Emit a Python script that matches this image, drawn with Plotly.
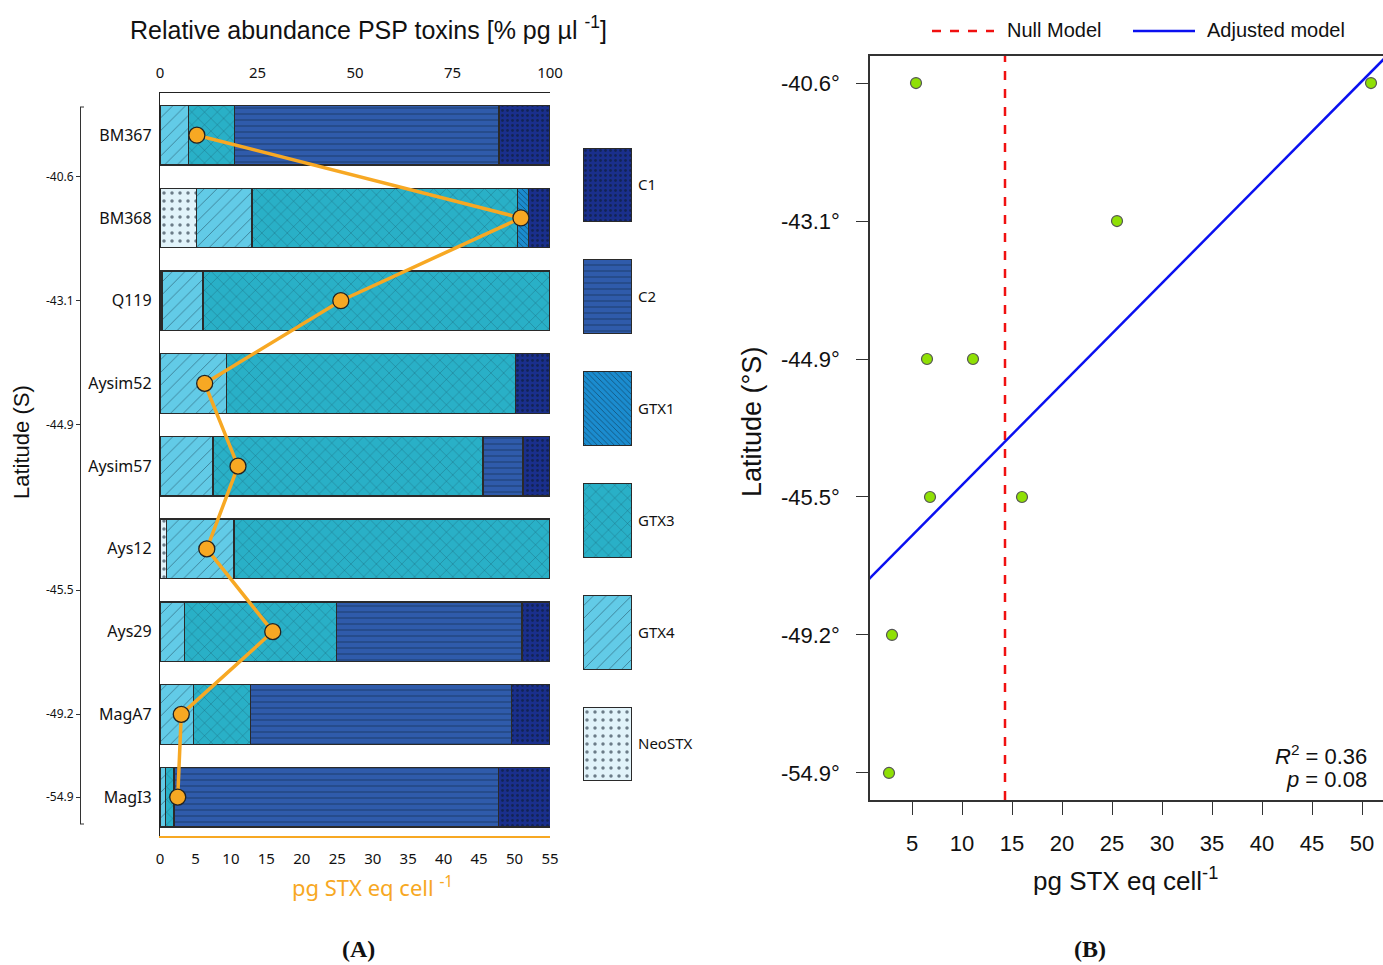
import plotly.graph_objects as go

W, H = 1383, 965

# ---------------- data ----------------
samples = ["BM367", "BM368", "Q119", "Aysim52", "Aysim57", "Ays12", "Ays29", "MagA7", "MagI3"]
toxins = ["NeoSTX", "GTX4", "GTX3", "GTX1", "C2", "C1"]          # stacking order (left -> right)
neostx = [0, 9.3, 0.5, 0, 0, 1.7, 0, 0, 0]
gtx4 = [7.3, 14.3, 10.5, 17.1, 13.6, 17.3, 6.3, 8.5, 1.4]
gtx3 = [11.8, 68.1, 89.0, 74.0, 69.2, 81.0, 38.9, 14.7, 2.2]
gtx1 = [0, 2.7, 0, 0, 0, 0, 0, 0, 0]
c2 = [67.8, 0, 0, 0, 10.3, 0, 47.6, 66.9, 83.2]
c1 = [13.1, 5.5, 0, 8.9, 6.9, 0, 7.1, 9.9, 13.3]
toxicity = [5.2, 50.9, 25.5, 6.3, 11.0, 6.6, 15.9, 3.0, 2.5]   # pg STX eq cell-1

left_lat_pos = [0.5, 2, 3.5, 5.5, 7, 8]
left_lat_text = ["-40.6", "-43.1", "-44.9", "-45.5", "-49.2", "-54.9"]

legend_order = ["C1", "C2", "GTX1", "GTX3", "GTX4", "NeoSTX"]

lat_labels = ["-40.6°", "-43.1°", "-44.9°", "-45.5°", "-49.2°", "-54.9°"]
pts_lat = ["-40.6°", "-40.6°", "-43.1°", "-44.9°", "-44.9°", "-45.5°", "-45.5°", "-49.2°", "-54.9°"]
pts_stx = [5.4, 50.9, 25.5, 6.5, 11.1, 6.8, 16.0, 3.0, 2.7]
null_model = 14.3
fit_intercept = 3.646
fit_slope = -0.0732
r2_text = "0.36"
p_text = "0.08"

# ---------------- styles ----------------
colors = {"C1": "#1a2f8c", "C2": "#2f5bab", "GTX1": "#1b8ccf",
          "GTX3": "#29b0c7", "GTX4": "#62cbe7", "NeoSTX": "#e1f3fa"}
patterns = {"C1": dict(shape=".", size=5, solidity=0.25),
            "C2": dict(shape="-", size=6, solidity=0.15),
            "GTX1": dict(shape="\\", size=4, solidity=0.2),
            "GTX3": dict(shape="x", size=9, solidity=0.08),
            "GTX4": dict(shape="/", size=9, solidity=0.08),
            "NeoSTX": dict(shape=".", size=8, solidity=0.15)}
values = {"NeoSTX": neostx, "GTX4": gtx4, "GTX3": gtx3, "GTX1": gtx1, "C2": c2, "C1": c1}

SANS = "Noto Sans"
ARIAL = "Liberation Sans"
ORANGE = "#f7a823"
RED = "#f01010"
BLUE = "#0a10f0"


def px(x):
    return x / W


def py(y):
    return 1 - y / H


fig = go.Figure()

# stacked bars
for t in toxins:
    fig.add_trace(go.Bar(
        y=samples, x=[v if v > 0 else None for v in values[t]], orientation="h",
        name=t, width=0.72, showlegend=False,
        marker=dict(color=colors[t], line=dict(color="#2a2a2a", width=1.3),
                    pattern=dict(fgcolor="#0a1a2a", fgopacity=0.55, **patterns[t])),
        xaxis="x", yaxis="y"))

# toxicity line
fig.add_trace(go.Scatter(
    y=samples, x=toxicity, mode="lines+markers", showlegend=False,
    line=dict(color=ORANGE, width=3.5),
    marker=dict(size=16, color=ORANGE, line=dict(color="#222", width=1.3)),
    xaxis="x2", yaxis="y"))

# latitude bracket axis (invisible carrier trace)
fig.add_trace(go.Scatter(x=[None], y=[None], showlegend=False, hoverinfo="skip",
                         xaxis="x", yaxis="y3"))

# legend patches drawn as bars
for t in legend_order:
    fig.add_trace(go.Bar(
        y=[t], x=[1], orientation="h", width=0.66, showlegend=False,
        marker=dict(color=colors[t], line=dict(color="#2a2a2a", width=1.3),
                    pattern=dict(fgcolor="#0a1a2a", fgopacity=0.55, **patterns[t])),
        xaxis="x5", yaxis="y5"))

# right panel
pts_y = [lat_labels.index(l) for l in pts_lat]
fig.add_trace(go.Scatter(
    x=[null_model, null_model], y=[-1, 6], mode="lines", name="Null Model", showlegend=False,
    line=dict(color=RED, width=2.5, dash="dash"), xaxis="x4", yaxis="y4"))
fx = [0, 55]
fig.add_trace(go.Scatter(
    x=fx, y=[fit_intercept + fit_slope * v for v in fx], mode="lines", name="Adjusted model",
    showlegend=False, line=dict(color=BLUE, width=2.5), xaxis="x4", yaxis="y4"))
fig.add_trace(go.Scatter(
    x=pts_stx, y=pts_y, mode="markers", showlegend=False,
    marker=dict(size=11, color="#8fe005", line=dict(color="#555", width=1.2)),
    xaxis="x4", yaxis="y4"))

n = len(samples)
fig.update_layout(
    width=W, height=H, margin=dict(l=0, r=0, t=0, b=0, autoexpand=False),
    paper_bgcolor="white", plot_bgcolor="rgba(0,0,0,0)",
    barmode="stack", bargap=0.28,
    font=dict(family=SANS, color="#111"),
    showlegend=False,
    xaxis=dict(domain=[px(160), px(550)], range=[0, 100], side="top", anchor="y",
               tickvals=[0, 25, 50, 75, 100], ticks="", showgrid=False, zeroline=False,
               showline=True, linecolor="#222", linewidth=1.3, automargin=False,
               tickfont=dict(family=SANS, size=15, color="#111"), ticklabelstandoff=8),
    xaxis2=dict(overlaying="x", range=[0, 55], side="bottom", anchor="y",
                tickvals=list(range(0, 56, 5)), ticks="", showgrid=False, zeroline=False,
                showline=True, linecolor=ORANGE, linewidth=2, automargin=False,
                tickfont=dict(family=SANS, size=15, color="#111"), ticklabelstandoff=8),
    yaxis=dict(domain=[py(836), py(93)], range=[n - 1 + 0.47, -0.51], anchor="x",
               categoryorder="array", categoryarray=samples, type="category",
               ticks="", showgrid=False, zeroline=False, automargin=False,
               showline=True, linecolor="#222", linewidth=1.3,
               tickfont=dict(family=SANS, size=16, color="#111"), ticklabelstandoff=4),
    yaxis3=dict(domain=[py(824), py(107)], range=[8.326, -0.338], anchor="free",
                position=px(80), side="left", tickvals=left_lat_pos, ticktext=left_lat_text,
                ticks="outside", ticklen=4, tickcolor="#333", showgrid=False, zeroline=False,
                showline=True, linecolor="#333", linewidth=1, automargin=False,
                tickfont=dict(family=SANS, size=12, color="#111")),
    xaxis5=dict(domain=[px(583), px(632)], range=[0, 1], visible=False, anchor="y5",
                automargin=False),
    yaxis5=dict(domain=[py(781), py(148)], range=[5.33, -0.33], anchor="x5", side="right",
                type="category", categoryorder="array", categoryarray=legend_order,
                ticks="", showline=False, showgrid=False, zeroline=False, automargin=False,
                tickfont=dict(family=SANS, size=15, color="#111"), ticklabelstandoff=5),
    xaxis4=dict(domain=[px(870), 1.0], range=[0.8, 52.1], anchor="y4",
                tickvals=list(range(5, 51, 5)), ticks="outside", ticklen=13, tickwidth=1.3,
                tickcolor="#333", showline=True, linecolor="#333", linewidth=1.5, mirror=True,
                showgrid=False, zeroline=False, automargin=False,
                tickfont=dict(family=ARIAL, size=22, color="#111"), ticklabelstandoff=10),
    yaxis4=dict(domain=[py(800), py(56)], range=[5.196, -0.196], anchor="x4",
                tickvals=list(range(len(lat_labels))), ticktext=lat_labels,
                ticks="outside", ticklen=12, tickwidth=1.3, tickcolor="#333",
                showline=True, linecolor="#333", linewidth=1.5, showgrid=False, zeroline=False,
                automargin=False,
                tickfont=dict(family=ARIAL, size=22, color="#111"), ticklabelstandoff=12),
)

ann = [
    dict(x=px(368), y=py(28), text="Relative abundance PSP toxins [% pg µl <sup>-1</sup>]",
         font=dict(family=ARIAL, size=25, color="#111")),
    dict(x=px(372), y=py(886), text="pg STX eq cell <sup>-1</sup>",
         font=dict(family=SANS, size=22, color=ORANGE)),
    dict(x=px(22), y=py(442), text="Latitude (S)", textangle=-90,
         font=dict(family=ARIAL, size=22, color="#111")),
    dict(x=px(358), y=py(949), text="<b>(A)</b>",
         font=dict(family="Liberation Serif", size=24, color="#111")),
    dict(x=px(1090), y=py(949), text="<b>(B)</b>",
         font=dict(family="Liberation Serif", size=24, color="#111")),
    dict(x=px(1125), y=py(879), text="pg STX eq cell<sup>-1</sup>",
         font=dict(family=ARIAL, size=26, color="#111")),
    dict(x=px(752), y=py(422), text="Latitude (°S)", textangle=-90,
         font=dict(family=ARIAL, size=27, color="#111")),
    dict(x=px(1369), y=py(755), xanchor="right",
         text=f"<i>R</i><sup>2</sup> = {r2_text}",
         font=dict(family=ARIAL, size=22, color="#111")),
    dict(x=px(1369), y=py(779), xanchor="right",
         text=f"<i>p</i> = {p_text}",
         font=dict(family=ARIAL, size=22, color="#111")),
    # right-panel legend labels
    dict(x=px(1005), y=py(30), xanchor="left", text="Null Model",
         font=dict(family=ARIAL, size=20, color="#111")),
    dict(x=px(1205), y=py(30), xanchor="left", text="Adjusted model",
         font=dict(family=ARIAL, size=20, color="#111")),
]
for a in ann:
    a.setdefault("xanchor", "center")
    fig.add_annotation(xref="paper", yref="paper", yanchor="middle", showarrow=False, **a)

# right-panel legend keys
fig.add_shape(type="line", xref="paper", yref="paper", x0=px(932), x1=px(994),
              y0=py(31), y1=py(31), line=dict(color=RED, width=2.5, dash="dash"))
fig.add_shape(type="line", xref="paper", yref="paper", x0=px(1133), x1=px(1195),
              y0=py(31), y1=py(31), line=dict(color=BLUE, width=2.5))

# bracket end caps
for yv in [py(107), py(824)]:
    fig.add_shape(type="line", xref="paper", yref="paper", x0=px(80), x1=px(84),
                  y0=yv, y1=yv, line=dict(color="#333", width=1))

fig.write_html("out.html")
